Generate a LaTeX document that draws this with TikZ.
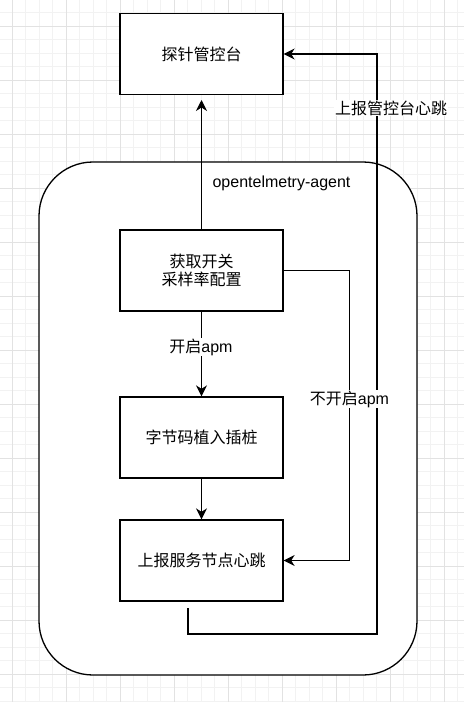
\documentclass[tikz,border=0pt]{standalone}
\usepackage{fontspec}
\setmainfont{Liberation Sans}
\newfontfamily\cjk{Noto Sans CJK SC}
\usetikzlibrary{arrows.meta}
\definecolor{gridminor}{HTML}{F2F2F2}
\definecolor{gridmajor}{HTML}{E2E2E2}
\begin{document}
\begin{tikzpicture}[x=1pt,y=-1pt,
  txt/.style={font=\fontsize{16}{19}\selectfont},
  box/.style={draw, fill=white, line width=1.3pt, minimum width=163pt, minimum height=81pt, inner sep=0pt, align=center, txt},
  conn/.style={line width=1.3pt, -{Stealth[length=11pt,width=11pt,inset=3.5pt]}},
  lbl/.style={fill=white, inner sep=1pt, txt}]
\useasboundingbox (0,0) rectangle (464,702);
\begin{scope}
\clip (0,0) rectangle (464,702);
\foreach \i in {0,...,35} \draw[gridminor, line width=1pt] ({-1.5+13.5*\i},0) -- ++(0,702);
\foreach \i in {0,...,52} \draw[gridminor, line width=1pt] (0,{-1+13.5*\i}) -- ++(464,0);
\foreach \i in {0,...,8} \draw[gridmajor, line width=1pt] ({12+54*\i},0) -- ++(0,702);
\foreach \i in {0,...,12} \draw[gridmajor, line width=1pt] (0,{26+54*\i}) -- ++(464,0);
\end{scope}
% container
\node (agent) [draw, fill=white, line width=1.3pt, rounded corners=54pt, minimum width=378pt, minimum height=513pt, inner sep=0pt] at (228,418.5) {};
\node (agentlbl) [txt] at (281.5,183) {opentelmetry-agent};
% boxes
\node (console) [box] at (201.5,54) {\cjk 探针管控台};
\node (cfg) [box] at (201.5,270.5) {\cjk 获取开关\\[-1pt]\cjk 采样率配置};
\node (inst) [box] at (201.5,437.5) {\cjk 字节码植入插桩};
\node (hb) [box] at (201.5,560.5) {\cjk 上报服务节点心跳};
% connectors
\coordinate (ctip) at (201.5,100);
\draw[conn] (cfg.north) -- (ctip);
\draw[conn] (cfg) -- (inst);
\draw[conn] (inst) -- (hb);
\draw[conn] (cfg.east) -- ++(66,0) |- (hb.east);
\coordinate (hbstart) at (188,608);
\draw[conn] (hbstart) -- (188,634) -- (377,634) |- (console.east);
% labels
\node (l1) [lbl] at (201,347) {{\cjk 开启}apm};
\node (l2) [lbl] at (349.5,399) {{\cjk 不开启}apm};
\node (l3) [lbl] at (391,108) {\cjk 上报管控台心跳};
\end{tikzpicture}
\end{document}
